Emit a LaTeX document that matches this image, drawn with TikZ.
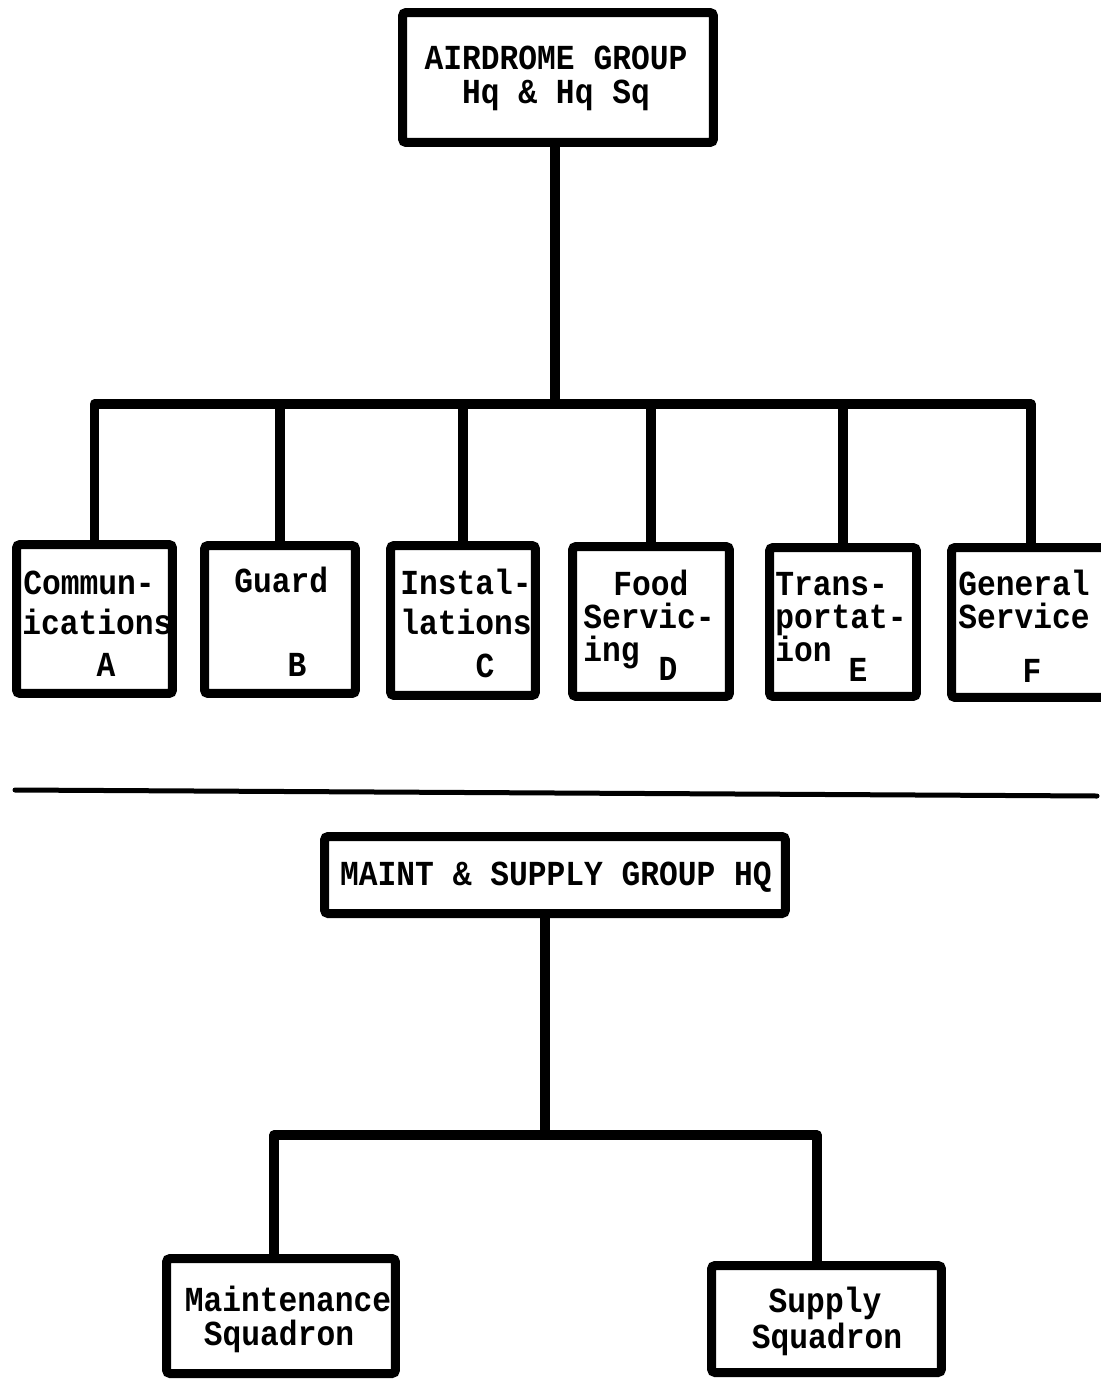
\documentclass[tikz,border=0pt]{standalone}
\usepackage{fontspec}
\setmonofont[FakeStretch=0.89]{Liberation Mono}
\usepackage{tikz}
\usetikzlibrary{positioning,calc}

\tikzset{
  unitbox/.style={draw,line width=0.18cm,rounded corners=2pt,inner sep=0pt},
  link/.style={line width=0.19cm,line join=round},
  txt/.style={inner sep=0pt,anchor=base west,font=\ttfamily\bfseries\fontsize{20}{22}\selectfont},
  ctxt/.style={txt,anchor=base}
}

\begin{document}
\begin{tikzpicture}[x=0.02cm,y=-0.02cm]
  \useasboundingbox (0,0) rectangle (1101,1382);
  \clip (0,0) rectangle (1101,1382);

  % upper chart
  \node[unitbox,minimum width=6.22cm,minimum height=2.6cm] (air) at (558,77.5) {};
  \node[ctxt] (air-1) at (556,70) {AIRDROME GROUP};
  \node[ctxt] (air-2) at (556,104) {Hq \& Hq Sq};

  \node[unitbox,minimum width=3.12cm,minimum height=2.98cm] (comm) at (94.5,619) {};
  \node[unitbox,minimum width=3.02cm,minimum height=2.96cm] (guard) at (280,619.5) {};
  \node[unitbox,minimum width=2.9cm,minimum height=3.0cm] (inst) at (463,620.5) {};
  \node[unitbox,minimum width=3.14cm,minimum height=3.0cm] (food) at (651,621.5) {};
  \node[unitbox,minimum width=2.94cm,minimum height=2.98cm] (trans) at (843,622) {};
  \node[unitbox,minimum width=3.18cm,minimum height=3.0cm] (gen) at (1031,622.5) {};

  \node[txt] (comm-1) at (23,594) {Commun-};
  \node[txt] (comm-2) at (22,634) {ications};
  \node[ctxt] (comm-l) at (106,676) {A};
  \node[txt] (guard-1) at (234,592) {Guard};
  \node[ctxt] (guard-l) at (297,676) {B};
  \node[txt] (inst-1) at (400,594) {Instal-};
  \node[txt] (inst-2) at (400,634) {lations};
  \node[ctxt] (inst-l) at (485,677) {C};
  \node[txt] (food-1) at (613,595) {Food};
  \node[txt] (food-2) at (583,628) {Servic-};
  \node[txt] (food-3) at (583,661) {ing};
  \node[ctxt] (food-l) at (668,680) {D};
  \node[txt] (trans-1) at (775,595) {Trans-};
  \node[txt] (trans-2) at (775,628) {portat-};
  \node[txt] (trans-3) at (775,661) {ion};
  \node[ctxt] (trans-l) at (858,681) {E};
  \node[txt] (gen-1) at (958,595) {General};
  \node[txt] (gen-2) at (958,628) {Service};
  \node[ctxt] (gen-l) at (1032,682) {F};

  \coordinate (bus) at (555,404);
  \draw[link] (air.south -| bus) -- (bus);
  \draw[link] (comm.north) |- (bus) -| (gen.north);
  \foreach \n in {guard,inst,food,trans}
    \draw[link] (\n.north) -- (\n.north |- bus);

  % dividing rule
  \coordinate (rule-l) at (15,790);
  \coordinate (rule-r) at (1097,796);
  \draw[line width=0.1cm,line cap=round] (rule-l) -- (rule-r);

  % lower chart
  \node[unitbox,minimum width=9.22cm,minimum height=1.54cm] (msg) at (555,875) {};
  \node[ctxt] (msg-1) at (556,885) {MAINT \& SUPPLY GROUP HQ};

  \node[unitbox,minimum width=4.58cm,minimum height=2.3cm] (maint) at (281,1316) {};
  \node[ctxt] (maint-1) at (288,1311) {Maintenance};
  \node[ctxt] (maint-2) at (279,1345) {Squadron};
  \node[unitbox,minimum width=4.6cm,minimum height=2.14cm] (supply) at (826.5,1319) {};
  \node[ctxt] (supply-1) at (825,1312) {Supply};
  \node[ctxt] (supply-2) at (827,1348) {Squadron};

  \coordinate (bus2) at (545,1135);
  \coordinate (mleft) at (274,1135);
  \coordinate (mright) at (817,1135);
  \draw[link] (msg.south -| bus2) -- (bus2);
  \draw[link] (maint.north -| mleft) |- (mright) -- (supply.north -| mright);
\end{tikzpicture}
\end{document}
